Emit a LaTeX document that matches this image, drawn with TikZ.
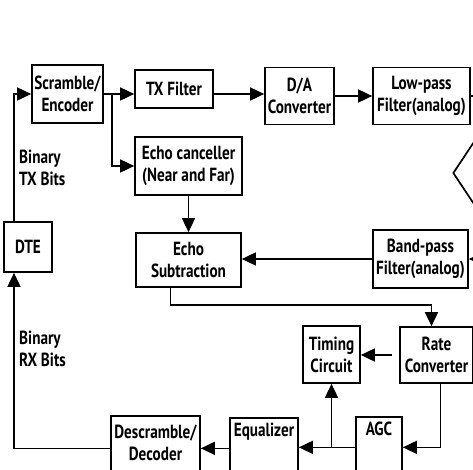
\documentclass[tikz,border=0pt]{standalone}
\usepackage{fontspec}
\setmainfont[FakeStretch=0.80]{PT Sans}
\usetikzlibrary{positioning,arrows.meta,shapes.geometric}

\begin{document}
\begin{tikzpicture}[x=1pt,y=-1pt,
  s/.style={draw=black,line width=1.7pt,inner sep=2pt,align=center,font=\fontsize{19}{22}\selectfont\bfseries},
  b/.style={s,anchor=north,text height=17pt,text depth=40pt},
  lb/.style={align=left,anchor=west,inner sep=0pt,font=\fontsize{19}{22}\selectfont\bfseries},
  a/.style={-{Triangle[length=14pt,width=13pt]},line width=1.7pt},
  l/.style={line width=1.7pt}]
\useasboundingbox (0,0) rectangle (473,470);
\clip (0,0) rectangle (473,470);
\node[s,minimum width=71pt,minimum height=58pt] (scr) at (67.5,94) {Scramble/\\Encoder};
\node[s,minimum width=78pt,minimum height=38pt] (tx) at (174,89) {TX Filter};
\node[s,minimum width=69pt,minimum height=57pt] (da) at (299.5,96) {D/A\\Converter};
\node[s,minimum width=97pt,minimum height=57pt] (lp) at (421.5,96) {Low-pass\\Filter(analog)};
\node[s,minimum width=107pt,minimum height=58pt] (ec) at (188.5,166) {Echo canceller\\(Near and Far)};
\node[s,minimum width=48pt,minimum height=50pt] (dte) at (28,247) {DTE};
\node[s,minimum width=105pt,minimum height=54pt] (es) at (188.5,260) {Echo\\Subtraction};
\node[s,minimum width=95pt,minimum height=58pt] (bp) at (420.5,259) {Band-pass\\Filter(analog)};
\node[s,minimum width=57pt,minimum height=57pt] (tc) at (331.5,354.5) {Timing\\Circuit};
\node[s,minimum width=73pt,minimum height=56pt] (rc) at (436.5,355) {Rate\\Converter};
\node[b,minimum width=68pt] (eq) at (264,417) {Equalizer};
\node[b,minimum width=46pt] (agc) at (379,416) {AGC};
\node[b,minimum width=89pt,text height=43pt,text depth=18pt] (dsc) at (155.5,415) {Descramble/\\Decoder};
\node[draw=black,line width=1.7pt,shape=diamond,inner sep=0pt,minimum width=60pt,minimum height=90pt] (hyb) at (483,173) {};
\node[lb] (txb) at (19,168) {Binary\\TX Bits};
\node[lb] (rxb) at (19,349) {Binary\\RX Bits};
% transmit path
\draw[a] ([xshift=-14pt]dte.north) |- (scr.west);
\draw[a] (scr.east) -- (scr.east -| tx.west);
\coordinate (br) at ([xshift=8pt]scr.east);
\draw[a] (br) |- (ec.west);
\draw[a] (tx.east |- scr.east) -- (da.west |- scr.east);
\draw[a] (da.east) -- (lp.west);
\draw[l] (lp.east) -| (hyb.north);
% receive path
\draw[a] (hyb.south) |- (bp.east);
\draw[a] (ec.south) -- (ec.south |- es.north);
\draw[a] (bp.west) -- (bp.west -| es.east);
\draw[a] ([xshift=-18pt]es.south) -- ++(0,17) -| ([xshift=-5pt]rc.north);
\draw[a,shorten <=7pt] (rc.west) -- (rc.west -| tc.east);
\draw[a] ([xshift=4pt]rc.south) |- (agc.east);
\draw[a] (agc.west) -- (agc.west -| eq.east);
\coordinate (tp) at (tc.south |- agc.west);
\draw[a] (tp) -- (tc.south);
\draw[a] (eq.west) -- (eq.west -| dsc.east);
\draw[a] (dsc.west) -| ([xshift=-14pt]dte.south);
\end{tikzpicture}
\end{document}
